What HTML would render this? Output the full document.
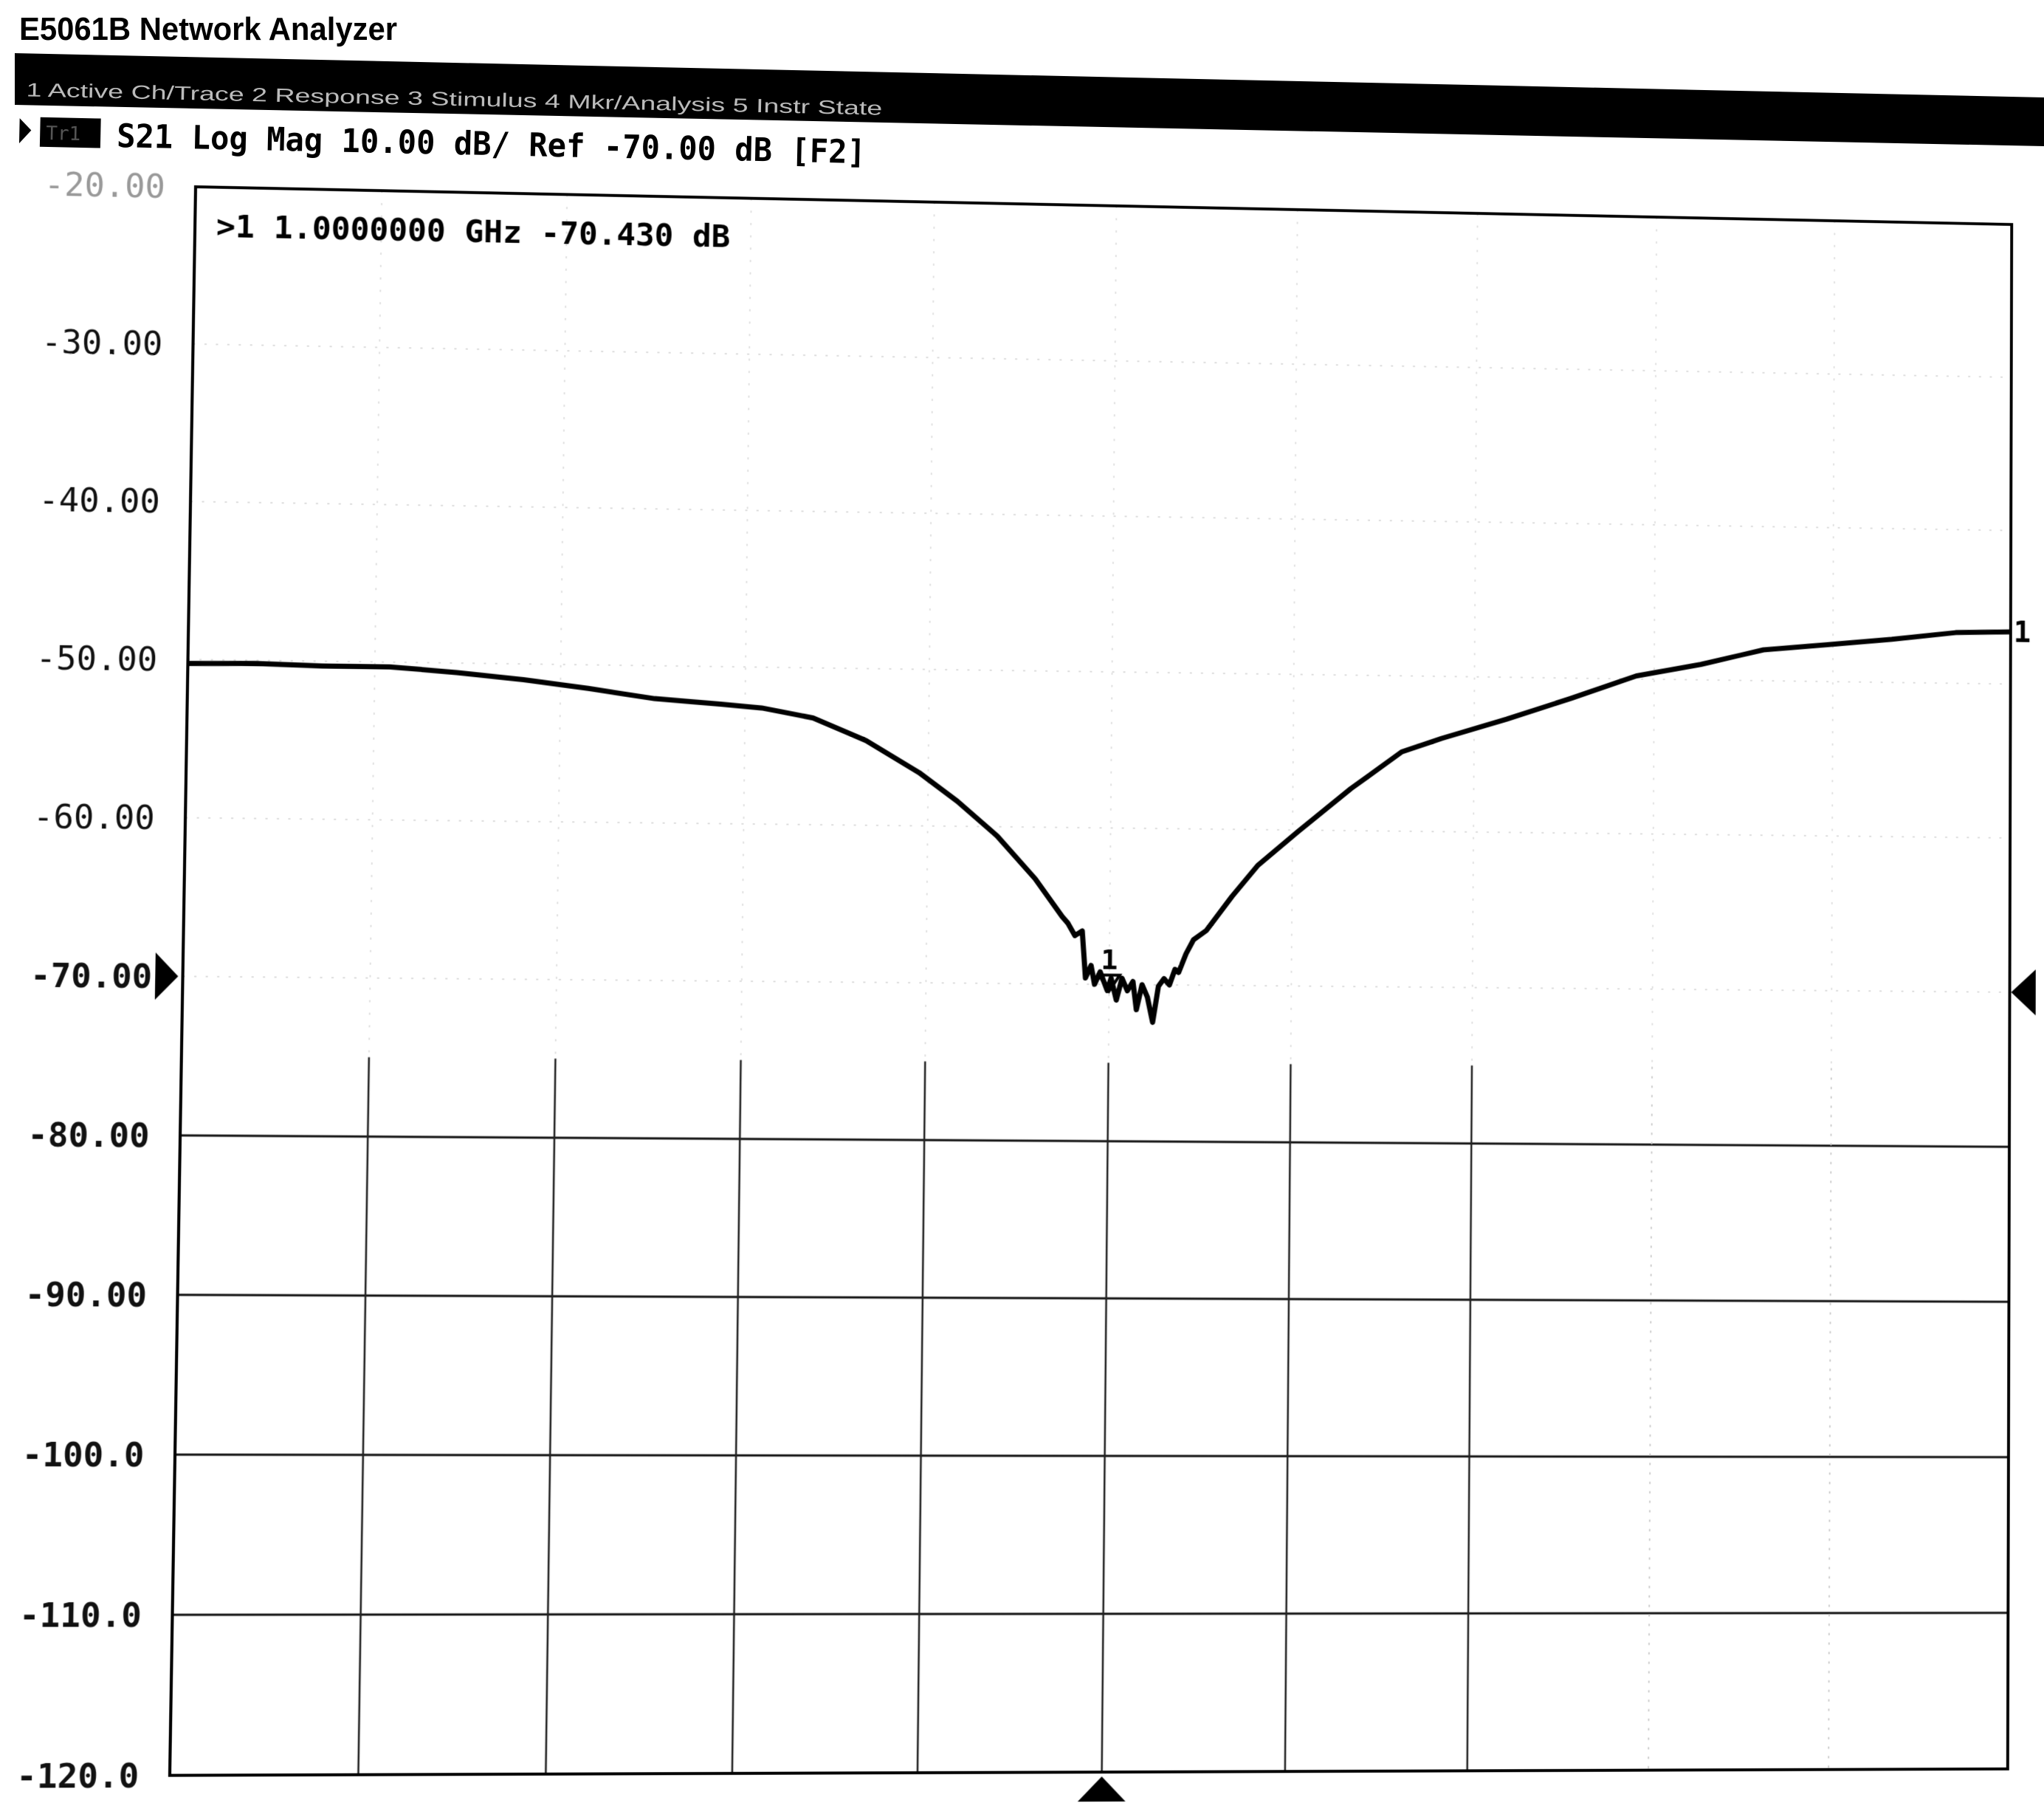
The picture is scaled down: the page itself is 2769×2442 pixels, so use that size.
<!DOCTYPE html>
<html><head><meta charset="utf-8"><style>
html,body{margin:0;padding:0;background:#fff;}
body{width:2769px;height:2442px;position:relative;overflow:hidden;font-family:"Liberation Sans",sans-serif;}
#warp{position:absolute;left:0;top:0;width:2460px;height:2150px;transform-origin:0 0;}
svg text{font-family:"DejaVu Sans Mono","Liberation Mono",monospace;}
</style></head><body>
<svg width="2769" height="260" style="position:absolute;left:0;top:0">
  <text x="26" y="54" font-size="44" font-weight="bold" textLength="512" lengthAdjust="spacingAndGlyphs" style="font-family:'Liberation Sans',sans-serif">E5061B Network Analyzer</text>
  <polygon points="20,72 2769,132 2769,198 20,142" fill="#000"/>
  <g transform="rotate(1.25 20 100)">
    <text x="36" y="130" font-size="26" fill="#bbb" textLength="1160" lengthAdjust="spacingAndGlyphs" style="font-family:'Liberation Sans',sans-serif">1 Active Ch/Trace   2 Response   3 Stimulus   4 Mkr/Analysis   5 Instr State</text>
    <polygon points="28,160 44,176 28,194" fill="#000"/>
    <rect x="56" y="158" width="82" height="40" fill="#000"/>
    <text x="64" y="188" font-size="26" fill="#555">Tr1</text>
    <text x="160" y="196" font-size="44" font-weight="bold" textLength="1015" lengthAdjust="spacingAndGlyphs">S21 Log Mag 10.00 dB/ Ref -70.00 dB [F2]</text>
  </g>
</svg>
<div id="warp">
<svg id="plot" width="2460" height="2150" style="overflow:visible;position:absolute;left:0;top:0"></svg>
</div>
<script>
// ---- chart data ----
const freqGHz = [0.5,0.536,0.572,0.608,0.644,0.68,0.715,0.751,0.787,0.809,0.837,0.866,0.895,0.916,0.938,0.959,0.974,
0.977,0.981,0.985,0.987,0.99,0.992,0.995,0.999,1.001,1.004,1.007,1.01,1.013,1.015,1.018,1.021,1.024,1.027,1.03,1.033,1.036,1.038,1.042,1.046,
1.053,1.067,1.081,1.103,1.132,1.16,1.182,1.218,1.254,1.29,1.326,1.361,1.397,1.433,1.469,1.5];
const s21dB = [-50.25,-50.2,-50.3,-50.3,-50.6,-51.0,-51.5,-52.1,-52.4,-52.6,-53.2,-54.6,-56.6,-58.4,-60.6,-63.3,-65.7,
-66.1,-66.9,-66.6,-69.6,-68.8,-70.0,-69.2,-70.4,-69.6,-71.0,-69.6,-70.4,-69.8,-71.6,-70.0,-70.8,-72.4,-70.1,-69.6,-70.0,-69.0,-69.2,-68.0,-67.1,
-66.5,-64.3,-62.3,-60.1,-57.3,-54.9,-54.0,-52.7,-51.3,-49.8,-49.0,-48.0,-47.6,-47.2,-46.7,-46.6];
const yTickLabels = ["-20.00","-30.00","-40.00","-50.00","-60.00","-70.00","-80.00","-90.00","-100.0","-110.0","-120.0"];
const yTickValues = [-20,-30,-40,-50,-60,-70,-80,-90,-100,-110,-120];
const markerFreq = [1.0];
const markerValue = [-70.43];
const refLevel = [-70];

const W=2460,H=2150, fStart=0.5, fStop=1.5, yTop=-20, yBot=-120;
const xs = f => (f-fStart)/(fStop-fStart)*W;
const ys = v => (yTop-v)/(yTop-yBot)*H;
const NS="http://www.w3.org/2000/svg";
const svg=document.getElementById('plot');
function mk(tag,attrs,parent){const e=document.createElementNS(NS,tag);for(const k in attrs)e.setAttribute(k,attrs[k]);(parent||svg).appendChild(e);return e;}

// grid
for(let i=1;i<10;i++){
  const y=ys(yTop-i*10);
  const solid = i>=6;
  const g=mk('line',{x1:0,x2:W,y1:y,y2:y,stroke:solid?'#111':'#ddd','stroke-width':solid?3:2,'stroke-dasharray':solid?'':'3 12'});
  
  
}
for(let i=1;i<10;i++){
  const x=i*W/10;
  const faint = i>=8;
  const g1=mk('line',{x1:x,x2:x,y1:0,y2:H*0.55,stroke:'#e2e2e2','stroke-width':2,'stroke-dasharray':'3 14'});
  
  
  const g2=mk('line',{x1:x,x2:x,y1:H*0.55,y2:H,stroke:faint?'#ccc':'#222','stroke-width':faint?2:2.5,'stroke-dasharray':faint?'3 10':''});
  
  
}
// border
const b=mk('rect',{x:0,y:0,width:W,height:H,fill:'none',stroke:'#000','stroke-width':4});



// y tick labels
yTickLabels.forEach((t,i)=>{
  const v=yTickValues[i];
  const e=mk('text',{x:-40,y:ys(v)+16,'text-anchor':'end','font-size':44,'font-weight':v<=-70?'bold':'normal',fill:v===-20?'#999':'#111'});
  e.textContent=t;
  
  
});

// trace
let d='';
freqGHz.forEach((f,i)=>{d+=(i?'L':'M')+xs(f).toFixed(1)+','+ys(s21dB[i]).toFixed(1);});
const tr=mk('path',{d:d,fill:'none',stroke:'#000','stroke-width':7,'stroke-linejoin':'round'});



// marker on trace
const mx=xs(markerFreq[0]), my=ys(markerValue[0]);
const mt=mk('path',{d:`M${mx-14},${my-22} L${mx+14},${my-22} L${mx},${my} Z`,fill:'none',stroke:'#000','stroke-width':4});


const ml=mk('text',{x:mx,y:my-30,'text-anchor':'middle','font-size':38,'font-weight':'bold'});
ml.textContent='1';



// marker readout
const mr=mk('text',{x:28,y:68,'font-size':42,'font-weight':'bold'});
mr.textContent='>1  '+markerFreq[0].toFixed(7)+' GHz '+markerValue[0].toFixed(3)+' dB';



// reference markers
const ry=ys(refLevel[0]);
const rl=mk('polygon',{points:`-36,${ry-32} -6,${ry} -36,${ry+32}`,fill:'#000'});


const rr=mk('polygon',{points:`${W+36},${ry-32} ${W+2},${ry} ${W+36},${ry+32}`,fill:'#000'});


const sm=mk('polygon',{points:`${mx-32},${H+40} ${mx},${H+6} ${mx+32},${H+40}`,fill:'#000'});


const tl=mk('text',{x:W+4,y:ys(s21dB[s21dB.length-1])+14,'font-size':40,'font-weight':'bold'});
tl.textContent='1';



// perspective warp to match scanned page
(function(){
  const p0=[265,253],p1=[2725,304],p2=[2720,2396],p3=[230,2405];
  const dx1=p1[0]-p2[0],dx2=p3[0]-p2[0],dx3=p0[0]-p1[0]+p2[0]-p3[0];
  const dy1=p1[1]-p2[1],dy2=p3[1]-p2[1],dy3=p0[1]-p1[1]+p2[1]-p3[1];
  const den=dx1*dy2-dx2*dy1;
  const g=(dx3*dy2-dx2*dy3)/den, h=(dx1*dy3-dx3*dy1)/den;
  const a=p1[0]-p0[0]+g*p1[0], bb=p3[0]-p0[0]+h*p3[0], c=p0[0];
  const dd=p1[1]-p0[1]+g*p1[1], e=p3[1]-p0[1]+h*p3[1], f=p0[1];
  const m=[a/W,dd/W,0,g/W, bb/H,e/H,0,h/H, 0,0,1,0, c,f,0,1];
  document.getElementById('warp').style.transform='matrix3d('+m.join(',')+')';
})();
</script>
</body></html>
